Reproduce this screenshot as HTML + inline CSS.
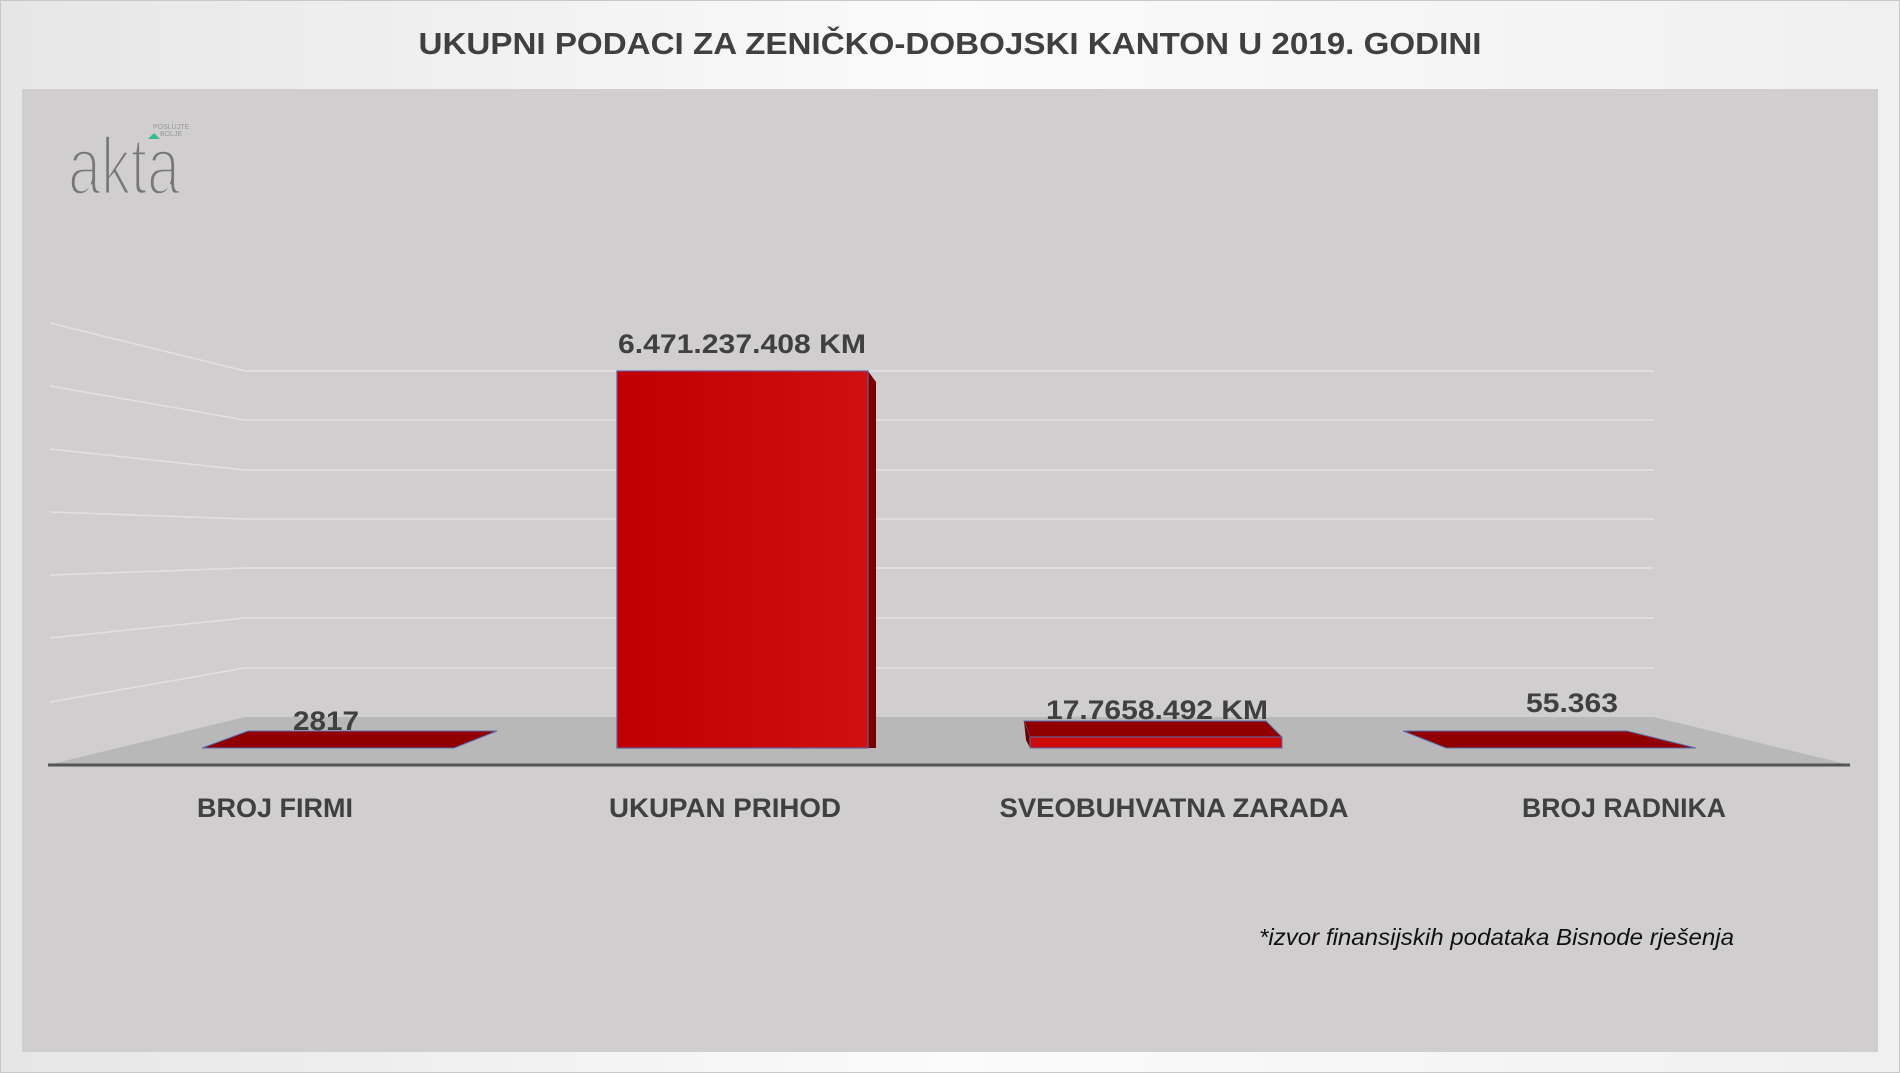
<!DOCTYPE html>
<html><head><meta charset="utf-8"><style>
html,body{margin:0;padding:0;width:1900px;height:1073px;overflow:hidden;background:#fff}
svg{display:block}
text{font-family:"Liberation Sans",sans-serif}
</style></head><body>
<svg width="1900" height="1073" viewBox="0 0 1900 1073" xmlns="http://www.w3.org/2000/svg">
<defs>
<linearGradient id="bg" x1="0" y1="0" x2="1" y2="0">
<stop offset="0" stop-color="#e6e6e6"/><stop offset="0.5" stop-color="#fbfbfb"/><stop offset="1" stop-color="#f0f0f0"/>
</linearGradient>
<linearGradient id="bar" x1="0" y1="0" x2="1" y2="0">
<stop offset="0" stop-color="#c00000"/><stop offset="1" stop-color="#d01010"/>
</linearGradient>
</defs>
<rect x="0" y="0" width="1900" height="1073" fill="url(#bg)"/>
<rect x="0.5" y="0.5" width="1899" height="1072" fill="none" stroke="#c8c8c8"/>
<rect x="22" y="89" width="1856" height="963" fill="#d0cecf"/>
<text x="950" y="54" text-anchor="middle" font-size="31" font-weight="bold" fill="#404040" textLength="1063" lengthAdjust="spacingAndGlyphs">UKUPNI PODACI ZA ZENIČKO-DOBOJSKI KANTON U 2019. GODINI</text>
<!-- logo -->
<text x="68" y="194" font-size="82" fill="#777" stroke="#d0cecf" stroke-width="3.5" textLength="112" lengthAdjust="spacingAndGlyphs">akta</text>
<polygon points="148,139 160,139 154,133" fill="#3cb98f"/>
<text x="153" y="129" font-size="7" fill="#999">POSLUJTE</text>
<text x="160" y="136" font-size="7" fill="#999">BOLJE</text>
<!-- grid -->
<g stroke="#e2e0e1" stroke-width="1.5" fill="none">
<polyline points="50,323 245,371 1654,371"/>
<polyline points="50,386 245,420 1654,420"/>
<polyline points="50,449 245,470 1654,470"/>
<polyline points="50,512 245,519 1654,519"/>
<polyline points="50,575 245,568 1654,568"/>
<polyline points="50,638 245,618 1654,618"/>
<polyline points="50,702 245,668 1654,668"/>
</g>
<!-- floor -->
<polygon points="48,765 245,717 1654,717 1850,765" fill="#b8b8b8"/>
<line x1="48" y1="765" x2="1850" y2="765" stroke="#555" stroke-width="3"/>
<!-- bar 1 -->
<polygon points="202,748 454,748 497,731 248,731" fill="#900000" stroke="#5a6fb0" stroke-width="1"/>
<!-- bar 2 -->
<polygon points="868,371 876,382 876,748 868,748" fill="#7a0000"/>
<rect x="617" y="371" width="251" height="377" fill="url(#bar)" stroke="#6a5a9a" stroke-width="1.2"/>
<!-- bar 3 -->
<polygon points="1024,721 1266,721 1282,737 1030,737" fill="#900000" stroke="#5a6fb0" stroke-width="1"/>
<polygon points="1024,721 1030,737 1030,748 1026,740" fill="#6a0000"/>
<rect x="1030" y="737" width="252" height="11" fill="#cc0a0a" stroke="#5a6fb0" stroke-width="1"/>
<!-- bar 4 -->
<polygon points="1403,731 1627,731 1696,748 1446,748" fill="#900000" stroke="#5a6fb0" stroke-width="1"/>
<!-- value labels -->
<g font-size="27" font-weight="bold" fill="#404040" text-anchor="middle">
<text x="326" y="730" textLength="66" lengthAdjust="spacingAndGlyphs">2817</text>
<text x="742" y="353" textLength="248" lengthAdjust="spacingAndGlyphs">6.471.237.408 KM</text>
<text x="1157" y="719" textLength="222" lengthAdjust="spacingAndGlyphs">17.7658.492 KM</text>
<text x="1572" y="712" textLength="92" lengthAdjust="spacingAndGlyphs">55.363</text>
</g>
<!-- category labels -->
<g font-size="27" font-weight="bold" fill="#404040" text-anchor="middle">
<text x="275" y="817" textLength="156" lengthAdjust="spacingAndGlyphs">BROJ FIRMI</text>
<text x="725" y="817" textLength="232" lengthAdjust="spacingAndGlyphs">UKUPAN PRIHOD</text>
<text x="1174" y="817" textLength="349" lengthAdjust="spacingAndGlyphs">SVEOBUHVATNA ZARADA</text>
<text x="1624" y="817" textLength="204" lengthAdjust="spacingAndGlyphs">BROJ RADNIKA</text>
</g>
<text x="1259" y="945" font-size="23" font-style="italic" fill="#111" textLength="475" lengthAdjust="spacingAndGlyphs">*izvor finansijskih podataka Bisnode rješenja</text>
</svg>
</body></html>
